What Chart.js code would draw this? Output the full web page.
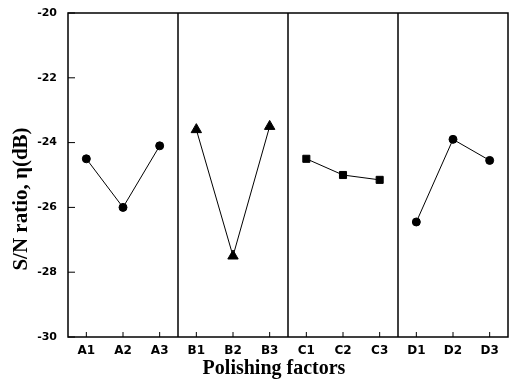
<!DOCTYPE html>
<html>
<head>
<meta charset="utf-8">
<script src="https://cdn.jsdelivr.net/npm/chart.js@4"></script>
<style>
  html, body { margin: 0; padding: 0; background: #fff; }
  #wrap { width: 509px; height: 380px; }
</style>
</head>
<body>
<div id="wrap"><canvas id="snChart"></canvas></div>
<script>
// S/N ratio per polishing factor level
const categories = ['A1', 'A2', 'A3', 'B1', 'B2', 'B3', 'C1', 'C2', 'C3', 'D1', 'D2', 'D3'];
const factorA = [-24.5, -26.0, -24.1];
const factorB = [-23.6, -27.5, -23.5];
const factorC = [-24.5, -25.0, -25.15];
const factorD = [-26.45, -23.9, -24.55];
const yTicks = [-30, -28, -26, -24, -22, -20];
const xTitle = 'Polishing factors';
const yTitle = 'S/N ratio, η(dB)';

// each factor is its own line, placed in its own panel
function panelData(values, start) {
    const out = new Array(categories.length).fill(null);
    values.forEach(function(v, i) { out[start + i] = v; });
    return out;
}

function lineSet(values, start, style, radius) {
    return {
        data: panelData(values, start),
        borderColor: '#000',
        backgroundColor: '#000',
        borderWidth: 1,
        pointStyle: style,
        pointRadius: radius,
        pointBorderWidth: 1,
        spanGaps: false
    };
}

// frame, panel dividers, inward tick marks and axis titles
const framePlugin = {
    id: 'frame',
    afterDraw: function(chart) {
        const ctx = chart.ctx;
        const a = chart.chartArea;
        const x = chart.scales.x;
        const y = chart.scales.y;
        ctx.save();
        ctx.strokeStyle = '#000';
        ctx.lineWidth = 1.5;
        ctx.strokeRect(a.left, a.top, a.right - a.left, a.bottom - a.top);
        [2.5, 5.5, 8.5].forEach(function(v) {
            const px = x.getPixelForValue(v);
            ctx.beginPath();
            ctx.moveTo(px, a.top);
            ctx.lineTo(px, a.bottom);
            ctx.stroke();
        });
        ctx.lineWidth = 1;
        yTicks.forEach(function(t) {
            const py = y.getPixelForValue(t);
            ctx.beginPath();
            ctx.moveTo(a.left, py);
            ctx.lineTo(a.left + 7, py);
            ctx.stroke();
        });
        categories.forEach(function(c, i) {
            const px = x.getPixelForValue(i);
            ctx.beginPath();
            ctx.moveTo(px, a.bottom);
            ctx.lineTo(px, a.bottom - 5);
            ctx.stroke();
        });

        ctx.fillStyle = '#000';
        ctx.textAlign = 'center';
        ctx.textBaseline = 'middle';
        ctx.font = 'bold 20px "Liberation Serif", "Times New Roman", serif';
        ctx.fillText(xTitle, 274, 369);
        ctx.translate(22, 199);
        ctx.rotate(-Math.PI / 2);
        ctx.font = 'bold 21px "Liberation Serif", "Times New Roman", serif';
        ctx.fillText(yTitle, 0, 0);
        ctx.restore();
    }
};

const ctx = document.getElementById('snChart').getContext('2d');
new Chart(ctx, {
    type: 'line',
    data: {
        labels: categories,
        datasets: [
            lineSet(factorA, 0, 'circle', 4),
            lineSet(factorB, 3, 'triangle', 6),
            lineSet(factorC, 6, 'rect', 5),
            lineSet(factorD, 9, 'circle', 4)
        ]
    },
    options: {
        responsive: true,
        maintainAspectRatio: false,
        animation: false,
        devicePixelRatio: 1,
        layout: { autoPadding: false, padding: { top: 13, right: 1, left: 0, bottom: 0 } },
        plugins: {
            legend: { display: false },
            tooltip: { enabled: false }
        },
        scales: {
            x: {
                offset: true,
                grid: { display: false, drawTicks: false },
                border: { display: false },
                ticks: {
                    color: '#000',
                    padding: 7,
                    font: { family: 'DejaVu Sans', size: 12, weight: 'bold' }
                },
                afterFit: function(scale) {
                    scale.height = 43;
                    scale.paddingLeft = 0;
                    scale.paddingRight = 0;
                }
            },
            y: {
                min: -30,
                max: -20,
                grid: { display: false, drawTicks: false },
                border: { display: false },
                afterBuildTicks: function(scale) {
                    scale.ticks = yTicks.map(function(v) { return { value: v }; });
                },
                ticks: {
                    color: '#000',
                    padding: 11,
                    font: { family: 'DejaVu Sans', size: 11, weight: 'bold' }
                },
                afterFit: function(scale) {
                    scale.width = 68;
                    scale.paddingTop = 0;
                    scale.paddingBottom = 0;
                }
            }
        }
    },
    plugins: [framePlugin]
});
</script>
</body>
</html>
